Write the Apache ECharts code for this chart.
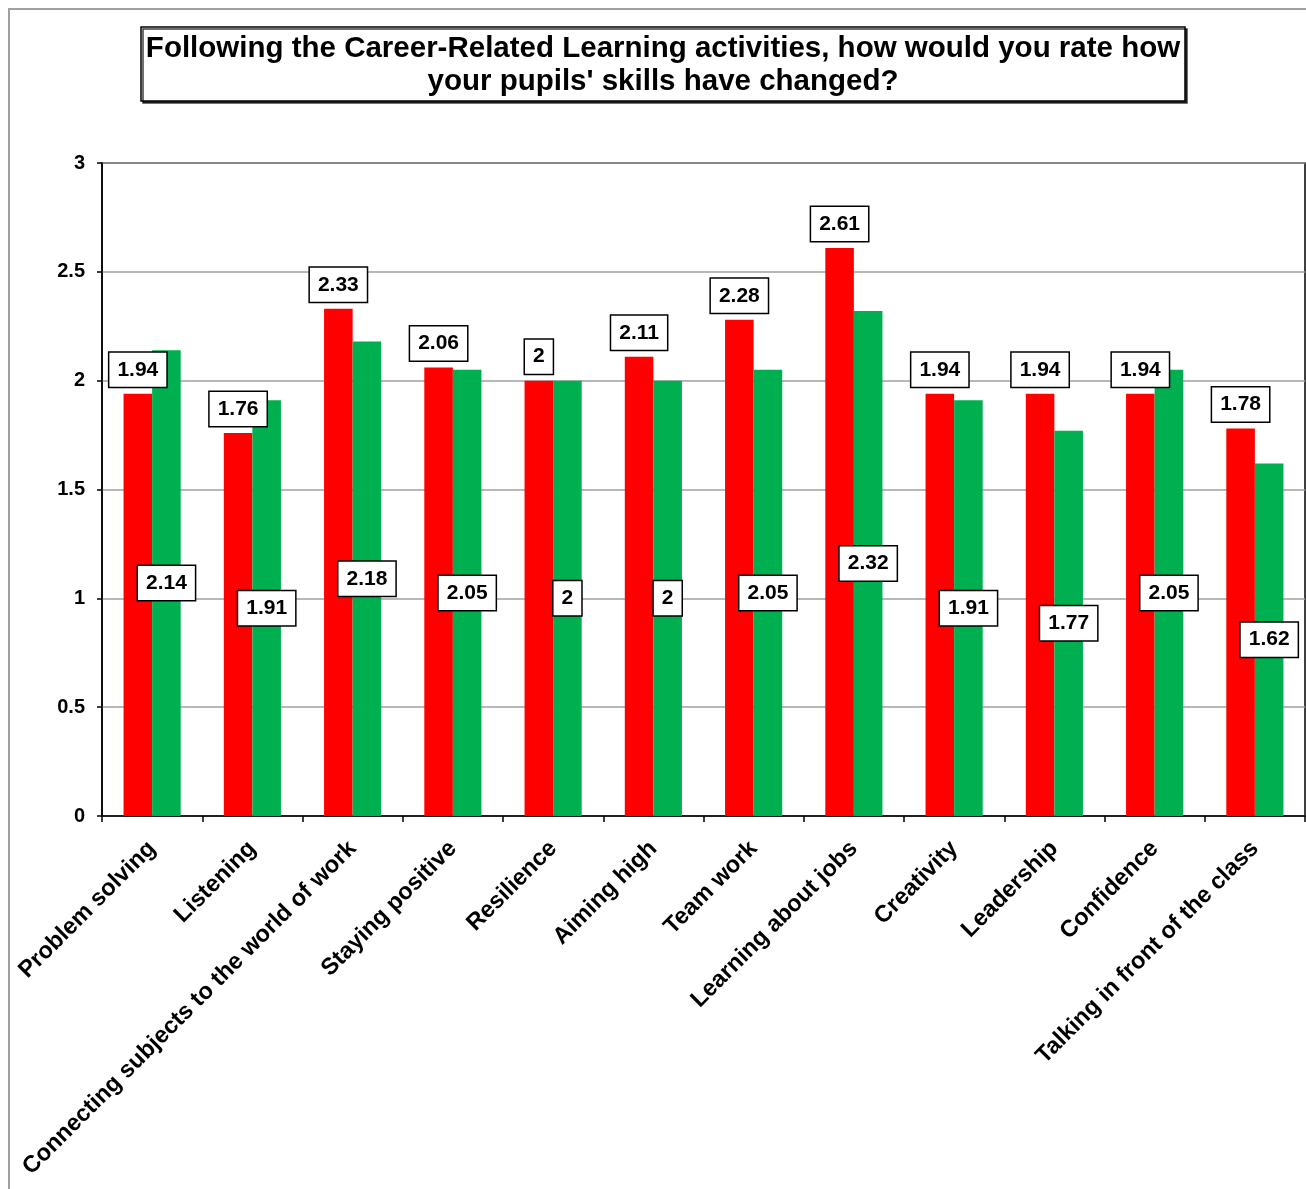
<!DOCTYPE html>
<html>
<head>
<meta charset="utf-8">
<title>Career-Related Learning – pupils' skills</title>
<script src="https://cdn.jsdelivr.net/npm/echarts@6/dist/echarts.min.js"></script>
<style>
  html, body { margin: 0; padding: 0; background: #ffffff; }
  #chart { width: 1306px; height: 1189px; }
</style>
</head>
<body>
<div id="chart"></div>
<script>
// Skill categories along the x axis
const categories = [
  'Problem solving',
  'Listening',
  'Connecting subjects to the world of work',
  'Staying positive',
  'Resilience',
  'Aiming high',
  'Team work',
  'Learning about jobs',
  'Creativity',
  'Leadership',
  'Confidence',
  'Talking in front of the class'
];

// Average ratings, first series (red)
const redValues = [1.94, 1.76, 2.33, 2.06, 2, 2.11, 2.28, 2.61, 1.94, 1.94, 1.94, 1.78];

// Average ratings, second series (green)
const greenValues = [2.14, 1.91, 2.18, 2.05, 2, 2, 2.05, 2.32, 1.91, 1.77, 2.05, 1.62];

// Y axis scale
const yMin = 0;
const yMax = 3;
const yStep = 0.5;

const FONT = 'Liberation Sans, Arial, sans-serif';

// Boxed value label shared by both series
const valueBox = {
  show: true,
  color: '#000',
  fontFamily: FONT,
  fontWeight: 'bold',
  fontSize: 21,
  lineHeight: 22,
  backgroundColor: '#ffffff',
  borderColor: '#000000',
  borderWidth: 1.5,
  padding: [6, 8, 6, 8]
};

const chart = echarts.init(document.getElementById('chart'), null, { renderer: 'canvas' });

chart.setOption({
  backgroundColor: '#ffffff',
  animation: false,
  graphic: [
    {
      type: 'rect',
      shape: { x: 9, y: 9, width: 1400, height: 1300 },
      style: { fill: 'none', stroke: '#a0a0a0', lineWidth: 2 },
      z: -10
    }
  ],
  title: {
    text: "Following the Career-Related Learning activities, how would you rate how\nyour pupils' skills have changed?",
    left: 658,
    top: 27,
    textAlign: 'center',
    padding: [5, 5, 3, 5],
    itemGap: 0,
    borderColor: '#000000',
    borderWidth: 1.5,
    backgroundColor: '#ffffff',
    shadowColor: 'rgba(0,0,0,0.75)',
    shadowBlur: 0,
    shadowOffsetX: 2,
    shadowOffsetY: 2,
    textStyle: {
      fontFamily: FONT,
      fontWeight: 'bold',
      fontSize: 29.5,
      lineHeight: 33,
      color: '#000'
    }
  },
  grid: {
    left: 102,
    top: 163,
    right: 1,
    bottom: 373,
    containLabel: false,
    show: true,
    borderColor: '#000000',
    borderWidth: 1.5,
    backgroundColor: 'transparent'
  },
  xAxis: {
    type: 'category',
    data: categories,
    axisLine: { show: true, lineStyle: { color: '#000', width: 1.5 } },
    axisTick: { show: true, length: 6, alignWithLabel: false, lineStyle: { color: '#000', width: 1.5 } },
    axisLabel: {
      rotate: 45,
      interval: 0,
      margin: 29,
      color: '#000',
      fontFamily: FONT,
      fontWeight: 'bold',
      fontSize: 23.5
    },
    splitLine: { show: false }
  },
  yAxis: {
    type: 'value',
    min: yMin,
    max: yMax,
    interval: yStep,
    axisLine: { show: true, lineStyle: { color: '#000', width: 1.5 } },
    axisTick: { show: true, length: 5, lineStyle: { color: '#000', width: 1.5 } },
    axisLabel: {
      margin: 17,
      color: '#000',
      fontFamily: FONT,
      fontWeight: 'bold',
      fontSize: 20
    },
    splitLine: { show: true, lineStyle: { color: '#a0a0a0', width: 1.5 } }
  },
  series: [
    {
      name: 'Red',
      type: 'bar',
      data: redValues,
      barGap: '0%',
      barCategoryGap: '43%',
      itemStyle: { color: '#ff0000' },
      label: Object.assign({}, valueBox, { position: 'top', distance: 7 })
    },
    {
      name: 'Green',
      type: 'bar',
      data: greenValues,
      barGap: '0%',
      barCategoryGap: '43%',
      itemStyle: { color: '#00b050' },
      label: Object.assign({}, valueBox, { position: 'inside' })
    }
  ]
});
</script>
</body>
</html>
